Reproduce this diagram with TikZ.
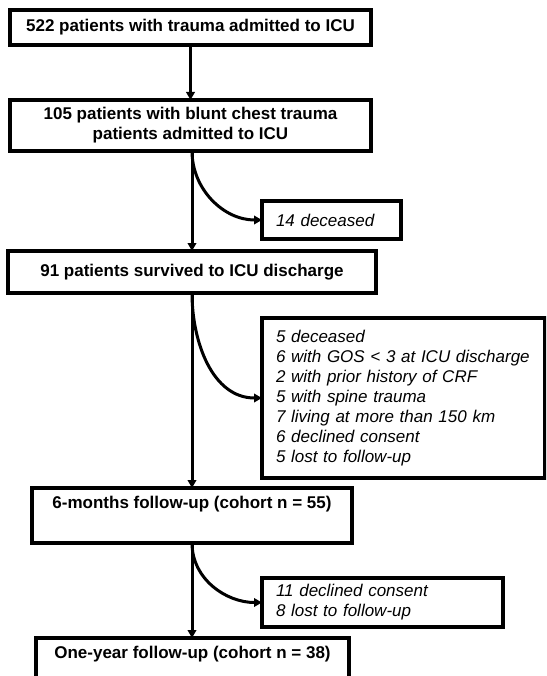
\documentclass[tikz,border=0pt]{standalone}
\usepackage{fontspec}
\setmainfont{Liberation Sans}
\usetikzlibrary{arrows.meta}
\begin{document}
\begin{tikzpicture}[x=1pt,y=-1pt,
  box/.style={draw, line width=3.4pt, outer sep=0pt, inner sep=0pt, anchor=north west,
    font=\fontsize{17}{20}\selectfont\bfseries, align=center},
  ibox/.style={draw, line width=3.4pt, outer sep=0pt, inner ysep=0pt, inner xsep=14pt, anchor=north west,
    font=\fontsize{17}{20}\selectfont\itshape, align=left},
  arr/.style={line width=3pt, -{Triangle[length=8pt,width=8.5pt]}}]
\clip (0,0) rectangle (546,676);
\node[box, minimum width=361pt, minimum height=35pt] (b1) at (10,10) {522 patients with trauma admitted to ICU};
\node[box, minimum width=361pt, minimum height=51pt] (b2) at (10,100) {105 patients with blunt chest trauma\\patients admitted to ICU};
\node[ibox, text width=111pt, minimum height=38pt] (d1) at (262,201) {14 deceased};
\node[box, minimum width=368pt, minimum height=42pt] (b3) at (8,251) {91 patients survived to ICU discharge};
\node[ibox, text width=255pt, minimum height=160pt] (ex) at (262,318) {\mbox{5 deceased}\\\mbox{6 with GOS < 3 at ICU discharge}\\\mbox{2 with prior history of CRF}\\\mbox{5 with spine trauma}\\\mbox{7 living at more than 150 km}\\\mbox{6 declined consent}\\\mbox{5 lost to follow-up}};
\node[box, minimum width=320pt, minimum height=55pt] (b4) at (32,488) {6-months follow-up (cohort n = 55)\\\strut};
\node[ibox, text width=213pt, minimum height=49pt] (e2) at (262,578) {\mbox{11 declined consent}\\\mbox{8 lost to follow-up}};
\node[box, minimum width=313pt, minimum height=55pt] (b6) at (36,638) {One-year follow-up (cohort n = 38)\\\strut};
\draw[arr] (b1.south) -- (b2.north);
\draw[arr] (b2.south -| b3.north) -- (b3.north);
\draw[arr] (b3.south) -- (b4.north);
\draw[arr] (b4.south) -- (b4.south |- b6.north);
\draw[arr] (b2.south -| b3.north) to[out=-90,in=180] (d1.west);
\draw[arr] (b3.south) to[out=-90,in=180] (ex.west);
\draw[arr] (b4.south) to[out=-90,in=180] (e2.west);
\end{tikzpicture}
\end{document}
